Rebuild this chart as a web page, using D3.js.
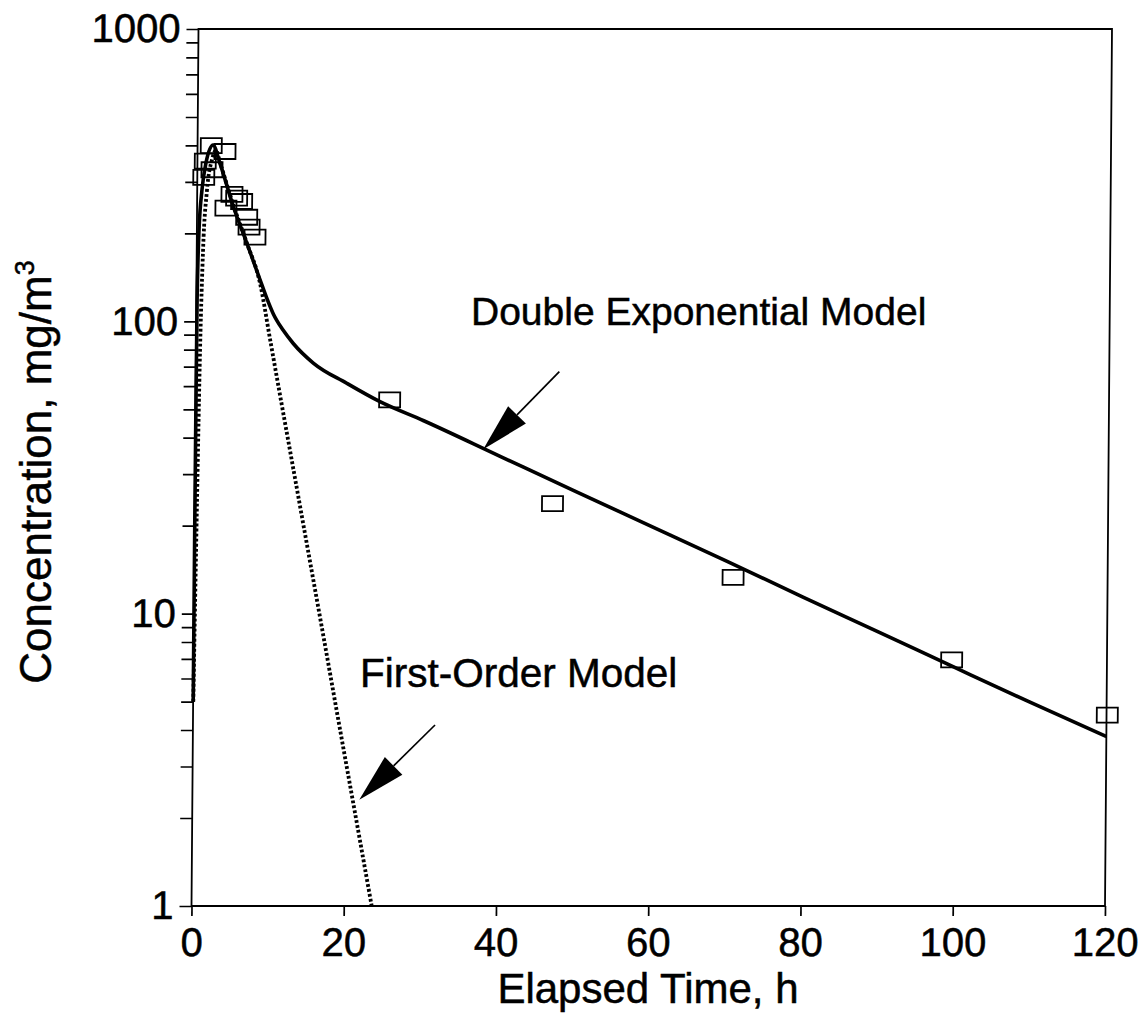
<!DOCTYPE html>
<html>
<head>
<meta charset="utf-8">
<script src="https://cdn.jsdelivr.net/npm/d3@7"></script>
<style>
  body { margin: 0; background: #fff; }
  svg { display: block; font-family: "Liberation Sans", Arial, Helvetica, sans-serif; }
  text { stroke: #000; stroke-width: 0.5px; fill: #000; }
</style>
</head>
<body>
<svg id="chart" width="1145" height="1017"></svg>
<script>
// Measured concentrations (h, mg/m3)
const obsTime = [0.85, 1.03, 1.80, 1.92, 3.61, 3.79, 4.57, 5.19, 5.85, 6.53, 6.85, 7.64, 25.5, 47.0, 70.8, 99.6, 120.1];
const obsConc = [311, 353, 399, 330, 381, 244, 272, 264, 257, 227, 210, 194, 53.9, 23.8, 13.3, 6.95, 4.5];

// Double exponential model curve
const dblTime = [0.01, 0.03, 0.06, 0.10, 0.28, 0.63, 1.13, 2.03, 2.96, 4.76, 6.55, 8.34, 9.2, 10.13, 11.4, 12.78, 15.43, 19.84, 24.23, 30, 40, 50, 60, 70, 80, 90, 100, 110, 120];
const dblConc = [5, 21, 54, 118, 206, 282, 349, 401, 347, 247, 186, 139, 121, 106, 93.5, 84, 72, 61.4, 53.1, 45.7, 34.6, 26.2, 19.9, 15.1, 11.4, 8.65, 6.55, 4.97, 3.8];

// First-order model curve
const foTime = [0.02, 0.30, 0.54, 0.83, 1.29, 1.91, 2.43, 2.96, 4.76, 6.55, 8.35, 9.72, 11.09, 12.46, 14.29, 17.0, 19.3, 21.37, 23.67];
const foConc = [5, 24.5, 80, 175, 282, 357, 385, 350, 250, 186, 135, 87, 56, 36.2, 20.2, 8.5, 4.05, 2.09, 1.0];

// Axis ticks
const xTickValues = [0, 20, 40, 60, 80, 100, 120];
const yMajorTicks = [1, 10, 100, 1000];

// Annotation arrows (tip and tail in data units)
const dblArrowTip = [37.85, 36.5];
const dblArrowTail = [47.76, 67.3];
const foArrowTip = [21.93, 2.31];
const foArrowTail = [31.8, 4.16];

const svg = d3.select("#chart");

const x = d3.scaleLinear().domain([0, 120]).range([191.5, 1105]);
const y = d3.scaleLog().domain([1, 1000]).range([906, 29]);

// Slight shear of the plotting frame
const y0 = y(1);
const plot = svg.append("g")
  .attr("transform", `translate(0,${y0}) skewX(-0.457) translate(0,${-y0})`);

// minor + major log ticks
const yAllTicks = [];
for (let d = 1; d <= 100; d *= 10) {
  for (let k = 1; k <= 9; k++) yAllTicks.push(k * d);
}
yAllTicks.push(1000);

const yAxis = d3.axisLeft(y)
  .tickValues(yAllTicks)
  .tickSize(12)
  .tickPadding(6)
  .tickFormat(d => yMajorTicks.includes(d) ? String(d) : "");

const xAxis = d3.axisBottom(x)
  .tickValues(xTickValues)
  .tickSize(10)
  .tickPadding(12)
  .tickFormat(d3.format("d"));

const gy = plot.append("g")
  .attr("transform", `translate(${x(0)},0)`)
  .call(yAxis);
const gx = plot.append("g")
  .attr("transform", `translate(0,${y(1)})`)
  .call(xAxis);

[gx, gy].forEach(g => {
  g.select(".domain").remove();
  g.selectAll("line").attr("stroke", "#000").attr("stroke-width", 1.7);
  g.selectAll("text")
    .attr("fill", "#000")
    .style("font-size", "40px");
});

// frame
plot.append("rect")
  .attr("x", x(0)).attr("y", y(1000))
  .attr("width", x(120) - x(0))
  .attr("height", y(1) - y(1000))
  .attr("fill", "none")
  .attr("stroke", "#000")
  .attr("stroke-width", 1.8);

const line = d3.line()
  .x(d => x(d[0]))
  .y(d => y(d[1]))
  .curve(d3.curveMonotoneX);

// first-order model (dotted)
plot.append("path")
  .datum(foTime.map((t, i) => [t, foConc[i]]))
  .attr("d", line)
  .attr("fill", "none")
  .attr("stroke", "#000")
  .attr("stroke-width", 3.8)
  .attr("stroke-dasharray", "2.8 2.2");

// double exponential model (solid)
plot.append("path")
  .datum(dblTime.map((t, i) => [t, dblConc[i]]))
  .attr("d", line)
  .attr("fill", "none")
  .attr("stroke", "#000")
  .attr("stroke-width", 3.6)
  .attr("stroke-linejoin", "round");

// observations as open squares
const sqW = 21, sqH = 15;
plot.append("g")
  .selectAll("rect")
  .data(obsTime.map((t, i) => [t, obsConc[i]]))
  .join("rect")
  .attr("x", d => x(d[0]) - sqW / 2)
  .attr("y", d => y(d[1]) - sqH / 2)
  .attr("width", sqW)
  .attr("height", sqH)
  .attr("fill", "none")
  .attr("stroke", "#000")
  .attr("stroke-width", 1.8);

// arrows
function arrow(tip, tail) {
  const tx = x(tip[0]), ty = y(tip[1]);
  const sx = x(tail[0]), sy = y(tail[1]);
  const dx = sx - tx, dy = sy - ty;
  const len = Math.hypot(dx, dy);
  const ux = dx / len, uy = dy / len;
  const headLen = 48, halfW = 12.5;
  const bx = tx + ux * headLen, by = ty + uy * headLen;
  plot.append("line")
    .attr("x1", sx).attr("y1", sy)
    .attr("x2", bx).attr("y2", by)
    .attr("stroke", "#000").attr("stroke-width", 1.7);
  plot.append("path")
    .attr("d", `M${tx},${ty} L${bx - uy * halfW},${by + ux * halfW} L${bx + uy * halfW},${by - ux * halfW} Z`)
    .attr("fill", "#000");
}
arrow(dblArrowTip, dblArrowTail);
arrow(foArrowTip, foArrowTail);

// annotations
svg.append("text")
  .attr("x", 471).attr("y", 325)
  .style("font-size", "39px")
  .text("Double Exponential Model");

svg.append("text")
  .attr("x", 360).attr("y", 687)
  .style("font-size", "40.5px")
  .text("First-Order Model");

// axis titles
svg.append("text")
  .attr("x", 648).attr("y", 1003)
  .attr("text-anchor", "middle")
  .style("font-size", "42px")
  .text("Elapsed Time, h");

const yTitle = svg.append("text")
  .attr("transform", "translate(51,472) rotate(-90)")
  .attr("text-anchor", "middle")
  .style("font-size", "44px");
yTitle.append("tspan").text("Concentration, mg/m");
yTitle.append("tspan").attr("dy", -17).style("font-size", "27px").text("3");
</script>
</body>
</html>
